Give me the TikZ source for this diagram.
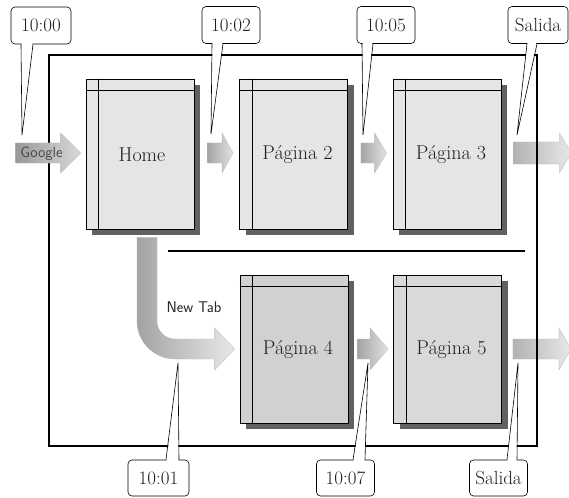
\documentclass[tikz,border=0pt]{standalone}
\usetikzlibrary{calc,shadows}
\begin{document}
\begin{tikzpicture}[x=1pt,y=-1pt,
  pagebox/.style={draw=black, line width=0.8pt, fill=#1, minimum width=108pt,
    minimum height=150pt, inner sep=0pt,
    drop shadow={shadow xshift=6pt, shadow yshift=-6pt, fill=black!62, opacity=1}},
  pagetext/.style={font=\fontsize{20}{22}\selectfont, text=black!88},
  pageline/.style={line width=0.8pt},
  callout/.style={draw, line width=0.6pt, rounded corners=4pt, fill=white,
    minimum width=58pt, minimum height=36pt, inner sep=0pt,
    font=\fontsize{19}{21}\selectfont, text=black!88},
  calloutline/.style={line width=0.6pt},
  arrowshade/.style={left color=gray!72, right color=gray!22, draw=gray!55, line width=0.3pt},
  exitshade/.style={left color=gray!60, right color=gray!18, draw=gray!55, line width=0.3pt},
  framel/.style={line width=1.4pt},
  sanslabel/.style={font=\sffamily\fontsize{15.5}{17}\selectfont, text=black!85}
]
\useasboundingbox (0,0) rectangle (569,497);

% pages
\node[pagebox=gray!20, minimum height=150pt] (home) at (140,154) {};
\node[pagebox=gray!20, minimum height=150pt] (p2) at (293.5,154) {};
\node[pagebox=gray!20, minimum height=150pt] (p3) at (447,154) {};
\node[pagebox=gray!36, minimum height=148pt] (p4) at (294,349) {};
\node[pagebox=gray!30, minimum height=148pt] (p5) at (447.5,349) {};
\foreach \p in {home,p2,p3,p4,p5}{
  \draw[pageline] ($(\p.north west)+(13,0)$) -- ($(\p.south west)+(13,0)$);
  \draw[pageline] ($(\p.north west)+(0,12)$) -- ($(\p.north east)+(0,12)$);
}
\node[pagetext] (thome) at ($(home.center)+(2,1)$) {Home};
\node[pagetext] (tp2) at ($(p2.center)+(4,1)$) {Página 2};
\node[pagetext] (tp3) at ($(p3.center)+(4,1)$) {Página 3};
\node[pagetext] (tp4) at ($(p4.center)+(4,1)$) {Página 4};
\node[pagetext] (tp5) at ($(p5.center)+(4,1)$) {Página 5};

% block arrow macro: #1 style, #2 tail centre, #3 tip, #4 head length, #5 body half, #6 head half
\newcommand{\blockarr}[6]{%
  \shade[#1] ($(#2)+(0,-#5)$) -- ($(#3)+(-#4,-#5)$) -- ($(#3)+(-#4,-#6)$) -- (#3)
    -- ($(#3)+(-#4,#6)$) -- ($(#3)+(-#4,#5)$) -- ($(#2)+(0,#5)$) -- cycle;}

% arrow end points
\coordinate (gs) at ($(home.west)+(-70,-1)$);
\coordinate (gt) at ($(home.west)+(-5,-1)$);
\coordinate (a1s) at ($(home.east)+(13,-1)$);
\coordinate (a1t) at ($(p2.west)+(-6,-1)$);
\coordinate (a2s) at ($(p2.east)+(13,-1)$);
\coordinate (a2t) at ($(p3.west)+(-6,-1)$);
\coordinate (e1s) at ($(p3.east)+(12,-1)$);
\coordinate (e1t) at ($(p3.east)+(70,-1)$);
\coordinate (a3s) at ($(p4.east)+(9,0)$);
\coordinate (a3t) at ($(p5.west)+(-5,0)$);
\coordinate (e2s) at ($(p5.east)+(11,0)$);
\coordinate (e2t) at ($(p5.east)+(69,0)$);

% exit arrows (under the frame)
\blockarr{exitshade}{e1s}{e1t}{12}{11}{20}
\blockarr{exitshade}{e2s}{e2t}{12}{10}{21}

% frame and separator
\draw[framel] (49,55) rectangle (537,446);
\draw[framel] (168,251) -- (525,251);

% Google arrow
\blockarr{left color=gray!80, right color=gray!30, draw=gray!55, line width=0.3pt}{gs}{gt}{20}{10}{20}
\node[font=\sffamily\fontsize{15}{17}\selectfont, text=black!72, inner sep=0pt] (google) at ($(gs)!0.4!(gt)+(0,1)$) {Google};

% page to page arrows
\blockarr{arrowshade}{a1s}{a1t}{11}{10}{20}
\blockarr{arrowshade}{a2s}{a2t}{12}{10}{20}
\blockarr{arrowshade}{a3s}{a3t}{18}{10}{21}

% New Tab bent arrow
\coordinate (ntv) at ($(home.south)+(7,8)$);
\coordinate (ntt) at ($(p4.west)+(-5,0)$);
\coordinate (ol) at ($(ntv)+(-10,0)$);
\coordinate (ir) at ($(ntv)+(10,0)$);
\coordinate (hb) at ($(ntt)+(0,10)$);
\coordinate (ht) at ($(ntt)+(0,-10)$);
\coordinate (oc) at (ol |- hb);
\coordinate (ic) at (ir |- ht);
\shade[left color=gray!72, right color=gray!18, draw=gray!55, line width=0.3pt]
  (ol) -- ($(oc)+(0,-38)$) .. controls ($(oc)+(0,-17)$) and ($(oc)+(17,0)$) .. ($(oc)+(38,0)$)
  -- ($(ntt)+(-20,10)$) -- ($(ntt)+(-20,21)$) -- (ntt) -- ($(ntt)+(-20,-21)$) -- ($(ntt)+(-20,-10)$)
  -- ($(ic)+(18,0)$) .. controls ($(ic)+(8,0)$) and ($(ic)+(0,-8)$) .. ($(ic)+(0,-18)$)
  -- (ir) -- cycle;
\node[sanslabel] (newtab) at (194,307) {New Tab};

% callouts
\node[callout, minimum width=60pt, minimum height=37pt] (c00) at (41,25.5) {10:00};
\node[callout, minimum height=37pt] (c02) at (231,25) {10:02};
\node[callout, minimum height=37pt] (c05) at (386,25) {10:05};
\node[callout, minimum width=60pt, minimum height=37pt] (cs1) at (538,25) {Salida};
\node[callout, minimum width=61pt] (c01) at (158.5,478) {10:01};
\node[callout] (c07) at (345.5,478) {10:07};
\node[callout] (cs2) at (498.5,478) {Salida};

\coordinate (t00) at (22,135);
\coordinate (t02) at (211,134);
\coordinate (t05) at (363,135);
\coordinate (ts1) at (517,135);
\coordinate (t01) at (178,363);
\coordinate (t07) at (368,363);
\coordinate (ts2) at (518,363);

\newcommand{\taildown}[4]{%
  \fill[white] ($(#1.south)+(#2+0.5,-1.5)$) -- (#4) -- ($(#1.south)+(#3-0.5,-1.5)$) -- cycle;
  \draw[calloutline] ($(#1.south)+(#2,0)$) -- (#4) -- ($(#1.south)+(#3,0)$);}
\newcommand{\tailup}[4]{%
  \fill[white] ($(#1.north)+(#2+0.5,1.5)$) -- (#4) -- ($(#1.north)+(#3-0.5,1.5)$) -- cycle;
  \draw[calloutline] ($(#1.north)+(#2,0)$) -- (#4) -- ($(#1.north)+(#3,0)$);}

\taildown{c00}{-20}{-8}{t00}
\taildown{c02}{-19}{-8}{t02}
\taildown{c05}{-24}{-13}{t05}
\taildown{cs1}{-11}{-1}{ts1}
\tailup{c01}{7.5}{20.5}{t01}
\tailup{c07}{7.5}{19.5}{t07}
\tailup{cs2}{8.5}{18.5}{ts2}
\end{tikzpicture}
\end{document}
